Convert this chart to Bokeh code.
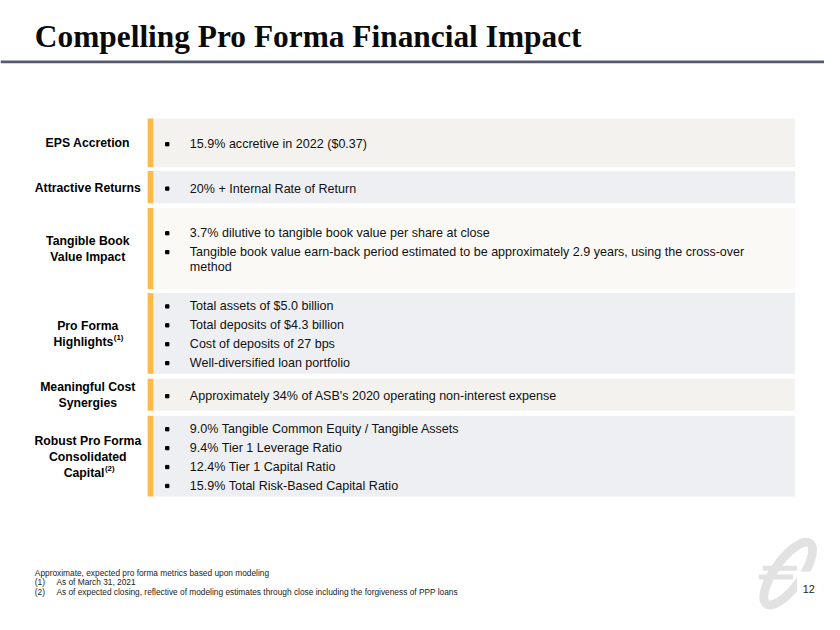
from bokeh.plotting import figure
from bokeh.models import Range1d
from bokeh.core.properties import value
from bokeh.embed import file_html
from bokeh.resources import INLINE

# ---------------- data ----------------
title = "Compelling Pro Forma Financial Impact"
row_labels = [
    ["EPS Accretion"],
    ["Attractive Returns"],
    ["Tangible Book", "Value Impact"],
    ["Pro Forma", "Highlights"],
    ["Meaningful Cost", "Synergies"],
    ["Robust Pro Forma", "Consolidated", "Capital"],
]
label_notes = ["", "", "", "(1)", "", "(2)"]
row_bullets = [
    [["15.9% accretive in 2022 ($0.37)"]],
    [["20% + Internal Rate of Return"]],
    [["3.7% dilutive to tangible book value per share at close"],
     ["Tangible book value earn-back period estimated to be approximately 2.9 years, using the cross-over",
      "method"]],
    [["Total assets of $5.0 billion"], ["Total deposits of $4.3 billion"],
     ["Cost of deposits of 27 bps"], ["Well-diversified loan portfolio"]],
    [["Approximately 34% of ASB's 2020 operating non-interest expense"]],
    [["9.0% Tangible Common Equity / Tangible Assets"], ["9.4% Tier 1 Leverage Ratio"],
     ["12.4% Tier 1 Capital Ratio"], ["15.9% Total Risk-Based Capital Ratio"]],
]
footnote_main = "Approximate, expected pro forma metrics based upon modeling"
footnote_marks = ["(1)", "(2)"]
footnote_texts = ["As of March 31, 2021",
                  "As of expected closing, reflective of modeling estimates through close including the forgiveness of PPP loans"]
page_number = "12"

# ---------------- layout (slide pixels, 840 x 630) ----------------
W, H = 824, 614
S = W / 840.0


def px(v):
    return "%.2fpx" % (v * S)


row_top = [121, 175, 213, 300, 388, 426]
row_bottom = [171, 208, 296, 383, 421, 509]
row_fill = ["#F3F2EE", "#EEEFF3", "#FAF9F6", "#EEEFF3", "#F3F2EE", "#EEEFF3"]
note_x = [None, None, None, 115.5, None, 106.5]
BAR_L, BAR_R, BG_R = 150, 156, 810
LABEL_X, BULLET_X, TEXT_X = 89, 170, 193
ITEM_GAP, WRAP_GAP, LABEL_GAP = 19.4, 15.0, 16.5
YELLOW = "#FDB94A"

p = figure(width=W, height=H, x_range=Range1d(0, 840), y_range=Range1d(630, 0),
           output_backend="svg", toolbar_location=None, min_border=0,
           x_axis_type=None, y_axis_type=None)
p.grid.visible = False
p.outline_line_color = None
p.background_fill_color = "white"
p.border_fill_color = "white"

# title and rule
p.text(x=[35], y=[36.5], text=[title], text_font=value("Liberation Serif"),
       text_font_style="bold", text_font_size=px(32), text_baseline="middle",
       text_color="#0A0A0A")
p.quad(left=[0], right=[840], top=[61.5], bottom=[64.5], fill_color="#555A6C", line_color=None)

# rows
p.quad(left=[BAR_L] * 6, right=[BAR_R] * 6, top=row_top, bottom=row_bottom,
       fill_color=YELLOW, line_color=None)
p.quad(left=[BAR_R] * 6, right=[BG_R] * 6, top=row_top, bottom=row_bottom,
       fill_color=row_fill, line_color=None)

lab_x, lab_y, lab_t = [], [], []
hx, hy, ht = [], [], []
sup_x, sup_y, sup_t = [], [], []
txt_x, txt_y, txt_t = [], [], []
bul_x, bul_y = [], []
for i in range(6):
    c = (row_top[i] + row_bottom[i]) / 2
    labs = row_labels[i]
    n = len(labs)
    for j, s in enumerate(labs):
        y = c + (j - (n - 1) / 2) * LABEL_GAP + 0.5
        if j == n - 1 and label_notes[i]:
            hx.append(note_x[i] - 0.5); hy.append(y); ht.append(s)
            sup_x.append(note_x[i]); sup_y.append(y - 4); sup_t.append(label_notes[i])
        else:
            lab_x.append(LABEL_X); lab_y.append(y); lab_t.append(s)
    offsets = []
    pos = 0.0
    for k, item in enumerate(row_bullets[i]):
        if k > 0:
            pos += ITEM_GAP
        for m, line in enumerate(item):
            if m > 0:
                pos += WRAP_GAP
            offsets.append((pos, line, m == 0))
    total = pos
    for off, line, first in offsets:
        y = c - total / 2 + off + 1.5
        txt_x.append(TEXT_X); txt_y.append(y); txt_t.append(line)
        if first:
            bul_x.append(BULLET_X); bul_y.append(y)

p.text(x=lab_x, y=lab_y, text=lab_t, text_font=value("Liberation Sans"), text_font_style="bold",
       text_font_size=px(12.5), text_align="center", text_baseline="middle", text_color="#000000")
p.text(x=hx, y=hy, text=ht, text_font=value("Liberation Sans"), text_font_style="bold",
       text_font_size=px(12.5), text_align="right", text_baseline="middle", text_color="#000000")
p.text(x=sup_x, y=sup_y, text=sup_t, text_font=value("Liberation Sans"), text_font_style="bold",
       text_font_size=px(8), text_align="left", text_baseline="middle", text_color="#000000")

p.scatter(x=bul_x, y=bul_y, marker="square", size=3.3, color="#000000")
p.text(x=txt_x, y=txt_y, text=txt_t, text_font=value("Liberation Sans"),
       text_font_size=px(12.8), text_align="left", text_baseline="middle", text_color="#111111")

# footnotes
p.text(x=[35], y=[587], text=[footnote_main], text_font=value("Liberation Sans"),
       text_font_size=px(8.5), text_baseline="middle", text_color="#222222")
p.text(x=[35, 35], y=[596.5, 606.5], text=footnote_marks, text_font=value("Liberation Sans"),
       text_font_size=px(8.5), text_baseline="middle", text_color="#222222")
p.text(x=[57, 57], y=[596.5, 606.5], text=footnote_texts, text_font=value("Liberation Sans"),
       text_font_size=px(8.5), text_baseline="middle", text_color="#222222")

# logo mark (open on the right, where the page number sits)
p.ellipse(x=[803], y=[588], width=[76], height=[28], angle=[0.95], fill_color=None,
          line_color="#E2E2E2", line_width=9 * S)
p.quad(left=[812], right=[840], top=[586], bottom=[616], fill_color="white", line_color=None)
p.quad(left=[777, 773], right=[812, 808], top=[580, 589], bottom=[585, 594],
       fill_color="#E2E2E2", line_color=None)
p.text(x=[830], y=[604], text=[page_number], text_font=value("Liberation Sans"),
       text_font_size=px(11), text_align="right", text_baseline="middle", text_color="#222222")

open("out.html", "w").write(file_html(p, INLINE))
